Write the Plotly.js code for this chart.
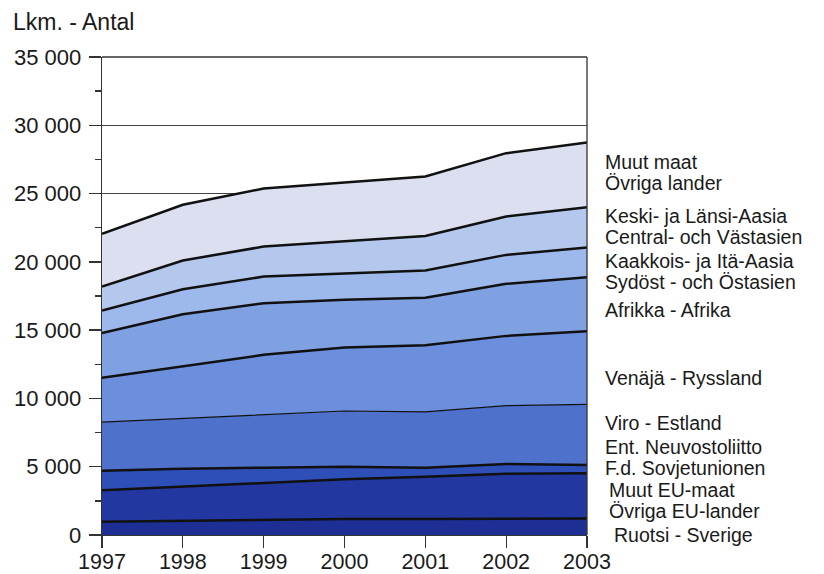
<!DOCTYPE html>
<html>
<head>
<meta charset="utf-8">
<script src="https://cdn.plot.ly/plotly-3.0.1.min.js"></script>
<style>html,body{margin:0;padding:0;background:#fff;}#chart{width:824px;height:574px;}</style>
</head>
<body>
<div id="chart"></div>
<script>
// Data (individual values, stacked)
const years = [1997, 1998, 1999, 2000, 2001, 2002, 2003];
const ruotsi   = [970, 1030, 1080, 1170, 1170, 1190, 1200];
const muutEU   = [2300, 2510, 2750, 2910, 3100, 3300, 3320];
const entNeuv  = [1440, 1320, 1100, 920, 660, 710, 610];
const viro     = [3550, 3660, 3860, 4080, 4080, 4270, 4440];
const venaja   = [3260, 3860, 4400, 4640, 4890, 5110, 5350];
const afrikka  = [3260, 3790, 3780, 3500, 3480, 3810, 3960];
const kaakkois = [1650, 1830, 1950, 1900, 1980, 2120, 2170];
const keski    = [1760, 2100, 2200, 2370, 2540, 2810, 2950];
const muutMaat = [3860, 4080, 4250, 4320, 4350, 4640, 4740];

const seriesNames = ['Ruotsi - Sverige','Muut EU-maat','Ent. Neuvostoliitto','Viro - Estland','Venäjä - Ryssland','Afrikka - Afrika','Kaakkois- ja Itä-Aasia','Keski- ja Länsi-Aasia','Muut maat'];
const seriesVals = [ruotsi, muutEU, entNeuv, viro, venaja, afrikka, kaakkois, keski, muutMaat];
const fills = ['#1d2f94','#2237a0','#2f4fb8','#4e72cc','#6b8fdc','#7fa1e2','#9db8ea','#b4c8ee','#dcdff0'];
const lineW = [2.5, 2.5, 2.5, 1.2, 2.5, 2.5, 2.5, 2.5, 2.5];

const traces = seriesVals.map((v, i) => ({
  x: years, y: v, name: seriesNames[i], type: 'scatter', mode: 'lines',
  stackgroup: 'one', fillcolor: fills[i],
  line: {color: '#111111', width: lineW[i]}, hoverinfo: 'skip'
}));

// Right-side labels (text lines and pixel positions)
const labelLines = [
  ['Muut maat', 162, 603], ['Övriga lander', 183, 603],
  ['Keski- ja Länsi-Aasia', 216, 603], ['Central- och Västasien', 237, 603],
  ['Kaakkois- ja Itä-Aasia', 261, 603], ['Sydöst - och Östasien', 282, 603],
  ['Afrikka - Afrika', 310, 603],
  ['Venäjä - Ryssland', 378, 603],
  ['Viro - Estland', 423, 603],
  ['Ent. Neuvostoliitto', 447, 603], ['F.d. Sovjetunionen', 468, 603],
  ['Muut EU-maat', 490, 607], ['Övriga EU-lander', 511, 607],
  ['Ruotsi - Sverige', 535, 612]
];
const W = 824, H = 574, L = 102, R = 237, T = 57, B = 39;
const annotations = labelLines.map(([t, py, px]) => ({
  text: t, xref: 'paper', yref: 'paper',
  x: (px - L) / (W - L - R), y: (H - B - py) / (H - T - B),
  xanchor: 'left', yanchor: 'middle', showarrow: false,
  font: {family: 'Liberation Sans, Arial, sans-serif', size: 19.5, color: '#1a1a1a'}
}));
annotations.push({
  text: 'Lkm. - Antal', xref: 'paper', yref: 'paper',
  x: (11 - L) / (W - L - R), y: (H - B - 22) / (H - T - B),
  xanchor: 'left', yanchor: 'middle', showarrow: false,
  font: {family: 'Liberation Sans, Arial, sans-serif', size: 23, color: '#1a1a1a'}
});

const layout = {
  width: W, height: H,
  margin: {l: L, r: R, t: T, b: B, pad: 0},
  paper_bgcolor: '#ffffff', plot_bgcolor: '#ffffff',
  showlegend: false,
  separators: ', ',
  font: {family: 'Liberation Sans, Arial, sans-serif', color: '#1a1a1a'},
  xaxis: {
    range: [1997, 2003], tickvals: years, ticktext: years.map(String),
    ticks: 'outside', ticklen: 12, tickcolor: '#333', tickwidth: 1.3,
    showgrid: false, zeroline: false, showline: true, linecolor: '#333', linewidth: 1.3,
    mirror: false, tickfont: {size: 21.5, color: '#1a1a1a'}, ticklabelstandoff: -5, fixedrange: true
  },
  yaxis: {
    range: [0, 35000], tick0: 0, dtick: 5000, tickformat: ',d',
    ticks: 'outside', ticklen: 12, tickcolor: '#333', tickwidth: 1.3,
    minor: {dtick: 2500, ticks: 'outside', ticklen: 6, tickcolor: '#333', showgrid: false},
    showgrid: true, gridcolor: '#444', gridwidth: 1,
    zeroline: false, showline: true, linecolor: '#333', linewidth: 1.3,
    tickfont: {size: 22, color: '#1a1a1a'}, ticklabelstandoff: 3, fixedrange: true
  },
  shapes: [
    {type: 'line', xref: 'paper', yref: 'paper', x0: 0, x1: 1, y0: 1, y1: 1, line: {color: '#333', width: 1.3}},
    {type: 'line', xref: 'paper', yref: 'paper', x0: 1, x1: 1, y0: 0, y1: 1, line: {color: '#333', width: 1.3}}
  ],
  annotations: annotations
};

Plotly.newPlot('chart', traces, layout, {displayModeBar: false, staticPlot: true});
</script>
</body>
</html>
